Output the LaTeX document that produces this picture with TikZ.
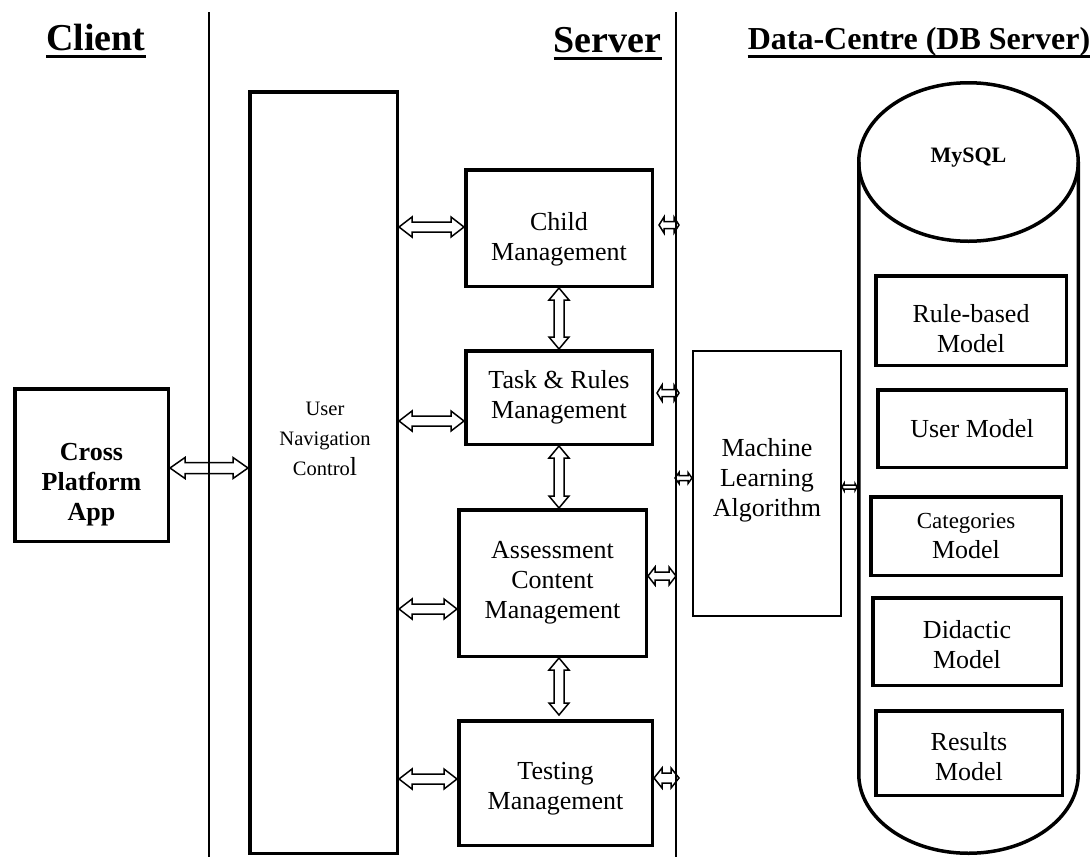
\documentclass[tikz,border=0pt]{standalone}
\usepackage{fontspec}
\setmainfont{Liberation Serif}
\usetikzlibrary{calc}
\tikzset{
  box/.style={draw, line width=3.5pt, inner sep=0pt, align=center, font=\fontsize{26}{30}\selectfont},
  thinbox/.style={draw, line width=1.6pt, inner sep=0pt, align=center, font=\fontsize{26}{30}\selectfont},
  txt/.style={inner sep=0pt, align=center, font=\fontsize{26}{30}\selectfont},
  title/.style={inner sep=0pt, anchor=base, font=\bfseries\fontsize{38}{42}\selectfont},
  divider/.style={line width=1.8pt},
  barrow/.style={line width=1.5pt, line join=miter},
  cyl/.style={line width=3.5pt}
}
\newcommand{\harr}[5]{\draw[barrow] let \p1=(#1), \p2=(#2) in
  (\x1,\y1) -- (\x1+#5pt,\y1+#3pt) -- (\x1+#5pt,\y1+#4pt) -- (\x2-#5pt,\y1+#4pt) -- (\x2-#5pt,\y1+#3pt)
  -- (\x2,\y1) -- (\x2-#5pt,\y1-#3pt) -- (\x2-#5pt,\y1-#4pt) -- (\x1+#5pt,\y1-#4pt) -- (\x1+#5pt,\y1-#3pt) -- cycle;}
\newcommand{\varr}[5]{\draw[barrow] let \p1=(#1), \p2=(#2) in
  (\x1,\y1) -- (\x1+#3pt,\y1-#5pt) -- (\x1+#4pt,\y1-#5pt) -- (\x1+#4pt,\y2+#5pt) -- (\x1+#3pt,\y2+#5pt)
  -- (\x1,\y2) -- (\x1-#3pt,\y2+#5pt) -- (\x1-#4pt,\y2+#5pt) -- (\x1-#4pt,\y1-#5pt) -- (\x1-#3pt,\y1-#5pt) -- cycle;}
\begin{document}
\begin{tikzpicture}[x=1pt,y=-1pt]
\useasboundingbox (0,0) rectangle (1092,857);
% titles
\node[title] (client) at (96,50) {Client};
\node[title] (server) at (607.5,52) {Server};
\node[title, font=\bfseries\fontsize{32}{36}\selectfont] (dc) at (919,49) {Data-Centre (DB Server)};
\draw[line width=3.5pt] ([yshift=-6.5pt]client.base west) -- ([yshift=-6.5pt]client.base east);
\draw[line width=3.5pt] ([yshift=-6.5pt]server.base west) -- ([yshift=-6.5pt]server.base east);
\draw[line width=3pt] ([yshift=-7pt]dc.base west) -- ([yshift=-7pt]dc.base east);
% dividers
\coordinate (d1t) at (209,12); \coordinate (d1b) at (209,857);
\coordinate (d2t) at (676,12); \coordinate (d2b) at (676,857);
\draw[divider] (d1t) -- (d1b);
\draw[divider] (d2t) -- (d2b);
% client
\node[box, minimum width=153.5pt, minimum height=152.5pt] (cross) at (91.5,465) {};
\node[txt, font=\bfseries\fontsize{26}{30}\selectfont] (crosstxt) at (91.5,485) {Cross\\Platform\\App};
% server
\node[box, minimum width=147.5pt, minimum height=761.5pt] (unc) at (323.5,472.5) {};
\node[txt, font=\fontsize{20.5}{30}\selectfont] (unctxt) at (325,439) {User\\Navigation\\Contro{\fontsize{26}{30}\selectfont l}};
\node[box, minimum width=186.5pt, minimum height=116.5pt] (child) at (559,228) {};
\node[txt] (childtxt) at (559,239) {Child\\Management};
\node[box, minimum width=186.5pt, minimum height=93.5pt] (task) at (559,397.5) {Task \& Rules\\Management};
\node[box, minimum width=187.5pt, minimum height=146.5pt] (assess) at (552.5,583) {Assessment\\Content\\Management};
\node[box, minimum width=193.5pt, minimum height=124.5pt] (testing) at (555.5,783) {};
\node[txt] (testingtxt) at (555.5,789) {Testing\\Management};
\node[thinbox, minimum width=148.4pt, minimum height=265.4pt] (ml) at (767,483.5) {};
\node[txt] (mltxt) at (767,480) {Machine\\Learning\\Algorithm};
% database cylinder
\draw[cyl] (968.5,162) ellipse [x radius=109.75pt, y radius=79.25pt];
\draw[cyl] (858.75,162) -- (858.75,774) arc[start angle=180, end angle=360, x radius=109.75pt, y radius=79.25pt] -- (1078.25,162);
\node[inner sep=0pt, font=\bfseries\fontsize{22}{26}\selectfont] (mysql) at (968.5,158) {MySQL};
\coordinate (cylw) at (857,487);
\node[box, minimum width=190.5pt, minimum height=89.5pt] (rule) at (971,320.5) {};
\node[txt] (ruletxt) at (971,329) {Rule-based\\Model};
\node[box, minimum width=188.5pt, minimum height=77.5pt] (usermodel) at (972,428.5) {User Model};
\node[box, minimum width=190.5pt, minimum height=78.5pt] (categ) at (966,536) {{\fontsize{23}{30}\selectfont Categories}\\Model};
\node[box, minimum width=188.5pt, minimum height=87.5pt] (didactic) at (967,641.5) {};
\node[txt] (didactictxt) at (967,645) {Didactic\\Model};
\node[box, minimum width=186.5pt, minimum height=84.5pt] (results) at (969,753) {};
\node[txt] (resultstxt) at (969,757) {Results\\Model};
% big arrows
\coordinate (a0) at ([yshift=-3pt]cross.east);
\coordinate (a1) at ([yshift=1pt]child.west);
\coordinate (a2) at ([yshift=-23.5pt]task.west);
\coordinate (a3) at ([yshift=-26pt]assess.west);
\coordinate (a4) at ([yshift=4pt]testing.west);
\harr{a0}{unc.west |- a0}{10.5}{5.5}{15}
\harr{unc.east |- a1}{a1}{10}{5}{13}
\harr{unc.east |- a2}{a2}{10}{5}{13}
\harr{unc.east |- a3}{a3}{10}{5}{13}
\harr{unc.east |- a4}{a4}{10}{5}{13}
\coordinate (v3) at ([yshift=4pt]testing.north);
\varr{child.south}{task.north}{10}{5}{12}
\varr{task.south}{task.south |- assess.north}{10}{5}{12}
\varr{task.south |- assess.south}{task.south |- v3}{10}{5}{12}
% small arrows at the server / data-centre boundary
\coordinate (s1) at ([xshift=5pt,yshift=3pt]child.east);
\path (d2t |- s1) ++(3,0) coordinate (s1e);
\harr{s1}{s1e}{8}{3.5}{5}
\coordinate (s2) at ([xshift=3pt,yshift=4.5pt]task.east);
\path (d2t |- s2) ++(3,0) coordinate (s2e);
\harr{s2}{s2e}{8}{3.5}{5}
\coordinate (s3e) at ([yshift=5.5pt]ml.west);
\path (d2t |- s3e) ++(-1,0) coordinate (s3);
\harr{s3}{s3e}{5.5}{2.5}{4}
\coordinate (s4) at ([yshift=7pt]assess.east);
\harr{s4}{d2t |- s4}{9}{4}{7}
\coordinate (s5) at ([yshift=5pt]testing.east);
\path (d2t |- s5) ++(3,0) coordinate (s5e);
\harr{s5}{s5e}{10}{5}{8}
\coordinate (s6) at ([yshift=-3.5pt]ml.east);
\harr{s6}{cylw}{3.5}{2}{2}
\end{tikzpicture}
\end{document}
